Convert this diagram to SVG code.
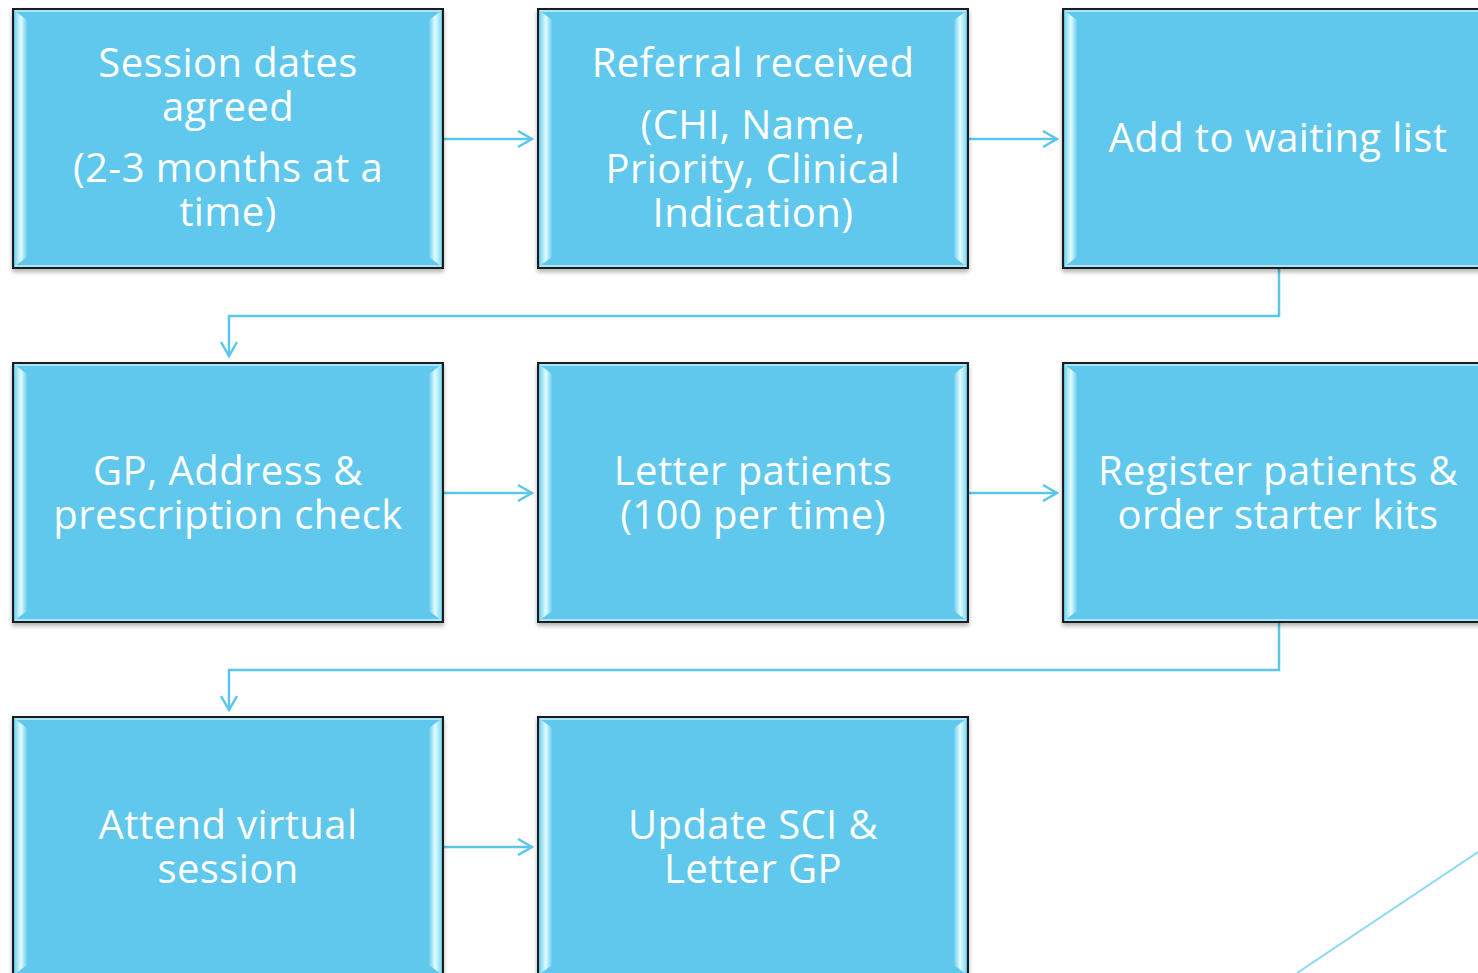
<svg xmlns="http://www.w3.org/2000/svg" width="1478" height="973" viewBox="0 0 1478 973">
<style>
.box{fill:#5ec8ec;stroke:#1e1e1e;stroke-width:2}
.bl{fill:url(#gl)}
.br{fill:url(#gr)}
.bh{stroke:#a9e7f8;stroke-width:2;fill:none}
.t{font-family:"Open Sans","Noto Sans",sans-serif;font-size:40px;letter-spacing:0.4px;fill:#ffffff;text-anchor:middle}
.c{fill:none;stroke:#5bc5ea;stroke-width:2.5}
</style>
<defs>
<linearGradient id="gl" x1="0" y1="0" x2="1" y2="0">
<stop offset="0" stop-color="#7fd5f0"/>
<stop offset="0.5" stop-color="#e2fcff"/>
<stop offset="1" stop-color="#6acdee"/>
</linearGradient>
<linearGradient id="gr" x1="0" y1="0" x2="1" y2="0">
<stop offset="0" stop-color="#6acdee"/>
<stop offset="0.5" stop-color="#e2fcff"/>
<stop offset="1" stop-color="#8fdbf2"/>
</linearGradient>
<filter id="sh" x="-5%" y="-5%" width="110%" height="115%">
<feDropShadow dx="0" dy="3" stdDeviation="2" flood-color="#000" flood-opacity="0.3"/>
</filter>
<marker id="ah" viewBox="-16 -10 18 20" refX="0" refY="0" markerWidth="18" markerHeight="20" markerUnits="userSpaceOnUse" orient="auto">
<path d="M-14,-8 L0,0 L-14,8" fill="none" stroke="#5bc5ea" stroke-width="2.5"/>
</marker>
<g id="frame">
<rect class="box" x="0" y="0" width="430" height="259" filter="url(#sh)"/>
<polygon class="bl" points="2,2 14,11 14,248 2,257"/>
<polygon class="br" points="428,2 416,11 416,248 428,257"/>
<line class="bh" x1="2" y1="2" x2="428" y2="2"/>
<line class="bh" x1="2" y1="257" x2="428" y2="257"/>
</g>
</defs>

<g id="connectors">
<line class="c" x1="444" y1="139" x2="532" y2="139" marker-end="url(#ah)"/>
<line class="c" x1="969" y1="139" x2="1057" y2="139" marker-end="url(#ah)"/>
<polyline class="c" points="1279,268 1279,316 229,316 229,356" marker-end="url(#ah)"/>
<line class="c" x1="444" y1="493" x2="532" y2="493" marker-end="url(#ah)"/>
<line class="c" x1="969" y1="493" x2="1057" y2="493" marker-end="url(#ah)"/>
<polyline class="c" points="1279,622 1279,670 229,670 229,710" marker-end="url(#ah)"/>
<line class="c" x1="444" y1="847" x2="532" y2="847" marker-end="url(#ah)"/>
<line x1="1297" y1="973" x2="1478" y2="852" stroke="#8dd8f2" stroke-width="2"/>
</g>

<g id="n1">
<use href="#frame" x="13" y="9"/>
<text class="t"><tspan x="228" y="77">Session dates</tspan><tspan x="228" y="121">agreed</tspan><tspan x="228" y="182">(2-3 months at a</tspan><tspan x="228" y="226">time)</tspan></text>
</g>
<g id="n2">
<use href="#frame" x="538" y="9"/>
<text class="t"><tspan x="753" y="77">Referral received</tspan><tspan x="753" y="139">(CHI, Name,</tspan><tspan x="753" y="183">Priority, Clinical</tspan><tspan x="753" y="227">Indication)</tspan></text>
</g>
<g id="n3">
<use href="#frame" x="1063" y="9"/>
<text class="t" x="1278" y="152">Add to waiting list</text>
</g>
<g id="n4">
<use href="#frame" x="13" y="363"/>
<text class="t"><tspan x="228" y="485">GP, Address &amp;</tspan><tspan x="228" y="529">prescription check</tspan></text>
</g>
<g id="n5">
<use href="#frame" x="538" y="363"/>
<text class="t"><tspan x="753" y="485">Letter patients</tspan><tspan x="753" y="529">(100 per time)</tspan></text>
</g>
<g id="n6">
<use href="#frame" x="1063" y="363"/>
<text class="t"><tspan x="1278" y="485">Register patients &amp;</tspan><tspan x="1278" y="529">order starter kits</tspan></text>
</g>
<g id="n7">
<use href="#frame" x="13" y="717"/>
<text class="t"><tspan x="228" y="839">Attend virtual</tspan><tspan x="228" y="883">session</tspan></text>
</g>
<g id="n8">
<use href="#frame" x="538" y="717"/>
<text class="t"><tspan x="753" y="839">Update SCI &amp;</tspan><tspan x="753" y="883">Letter GP</tspan></text>
</g>
</svg>
